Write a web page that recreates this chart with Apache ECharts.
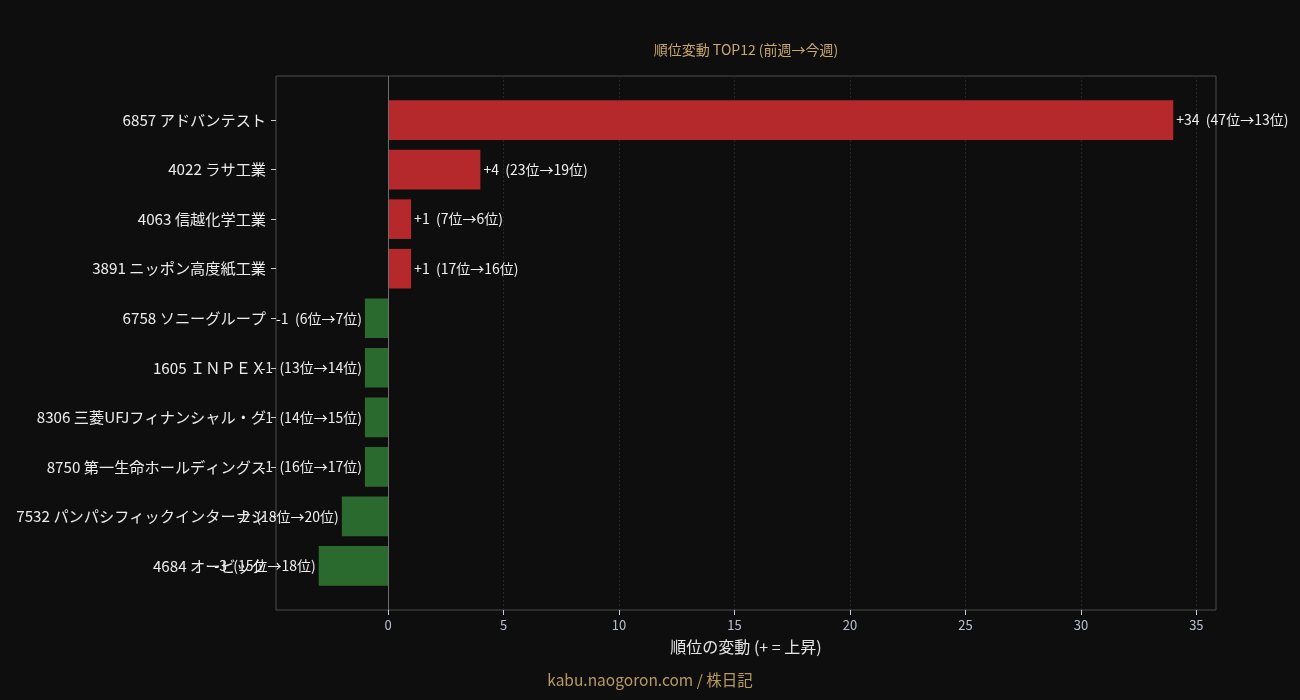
<!DOCTYPE html>
<html>
<head>
<meta charset="utf-8">
<script src="https://cdn.jsdelivr.net/npm/echarts@6/dist/echarts.min.js"></script>
<style>
  html, body { margin: 0; padding: 0; background: #0e0e0e; }
  #chart { width: 1300px; height: 700px; }
</style>
</head>
<body>
<div id="chart"></div>
<script>
// 銘柄名（表示上の切り詰めそのまま）
const names = [
  '6857 アドバンテスト',
  '4022 ラサ工業',
  '4063 信越化学工業',
  '3891 ニッポン高度紙工業',
  '6758 ソニーグループ',
  '1605 ＩＮＰＥＸ',
  '8306 三菱UFJフィナンシャル・グ',
  '8750 第一生命ホールディングス',
  '7532 パンパシフィックインターナシ',
  '4684 オービック'
];
const changes = [34, 4, 1, 1, -1, -1, -1, -1, -2, -3];
const prevRanks = [47, 23, 7, 17, 6, 13, 14, 16, 18, 15];
const currRanks = [13, 19, 6, 16, 7, 14, 15, 17, 20, 18];
const xTicks = [0, 5, 10, 15, 20, 25, 30, 35];

const X_MIN = -4.85, X_MAX = 35.85;
const FONT = '"Noto Sans CJK JP", "Noto Sans", sans-serif';

const barData = changes.map(function (v, i) {
  const sign = v > 0 ? '+' + v : String(v);
  return {
    value: v,
    itemStyle: { color: v >= 0 ? '#b5282c' : '#2a6a2e' },
    label: {
      show: true,
      position: v >= 0 ? 'right' : 'left',
      distance: 3,
      formatter: sign + '  (' + prevRanks[i] + '位→' + currRanks[i] + '位)'
    }
  };
});

const chart = echarts.init(document.getElementById('chart'));
chart.setOption({
  backgroundColor: '#0e0e0e',
  textStyle: { fontFamily: FONT },
  animation: false,
  graphic: [
    {
      type: 'text', x: 746, y: 50,
      style: { text: '順位変動 TOP12 (前週→今週)', fill: '#c9a96e', font: '14px ' + FONT, align: 'center', verticalAlign: 'middle' }
    },
    {
      type: 'text', x: 650, y: 680,
      style: { text: 'kabu.naogoron.com / 株日記', fill: '#b89a5f', font: '15.5px ' + FONT, align: 'center', verticalAlign: 'middle' }
    }
  ],
  grid: [
    { left: 276, top: 76, width: 940, height: 534, show: true, borderColor: '#4a4a4a', borderWidth: 1, backgroundColor: 'transparent' },
    { left: 276, top: 95.3, width: 940, height: 495.4 }
  ],
  xAxis: [
    {
      gridIndex: 0, type: 'value', min: X_MIN, max: X_MAX,
      name: '順位の変動 (+ = 上昇)', nameLocation: 'middle', nameGap: 29,
      nameTextStyle: { color: '#e6e6e6', fontSize: 16, fontFamily: FONT },
      axisLine: { show: false },
      axisTick: { show: true, customValues: xTicks, length: 5, lineStyle: { color: '#c4ccd8' } },
      axisLabel: { customValues: xTicks, color: '#b8c0d0', fontSize: 13, margin: 9, fontFamily: FONT },
      splitLine: { show: true, customValues: xTicks, lineStyle: { color: '#262626', width: 1, type: [2, 2] } }
    },
    {
      gridIndex: 1, type: 'value', min: X_MIN, max: X_MAX, show: false,
      splitLine: { show: false }
    }
  ],
  yAxis: [
    { gridIndex: 0, type: 'value', min: 0, max: 1, show: false, splitLine: { show: false } },
    {
      gridIndex: 1, type: 'category', data: names, inverse: true,
      axisLine: { show: false, onZero: false },
      axisTick: { show: true, alignWithLabel: true, length: 5, lineStyle: { color: '#cfcfcf' } },
      axisLabel: { color: '#ececec', fontSize: 15.2, margin: 10, fontFamily: FONT }
    }
  ],
  series: [
    {
      type: 'line', xAxisIndex: 0, yAxisIndex: 0, data: [],
      markLine: {
        silent: true, symbol: 'none', label: { show: false },
        lineStyle: { color: '#6e6e6e', type: 'solid', width: 1 },
        data: [{ xAxis: 0 }]
      }
    },
    {
      type: 'bar', xAxisIndex: 1, yAxisIndex: 1,
      data: barData,
      barCategoryGap: '20%',
      label: { color: '#f0f0f0', fontSize: 14, fontFamily: FONT }
    }
  ]
});
</script>
</body>
</html>
